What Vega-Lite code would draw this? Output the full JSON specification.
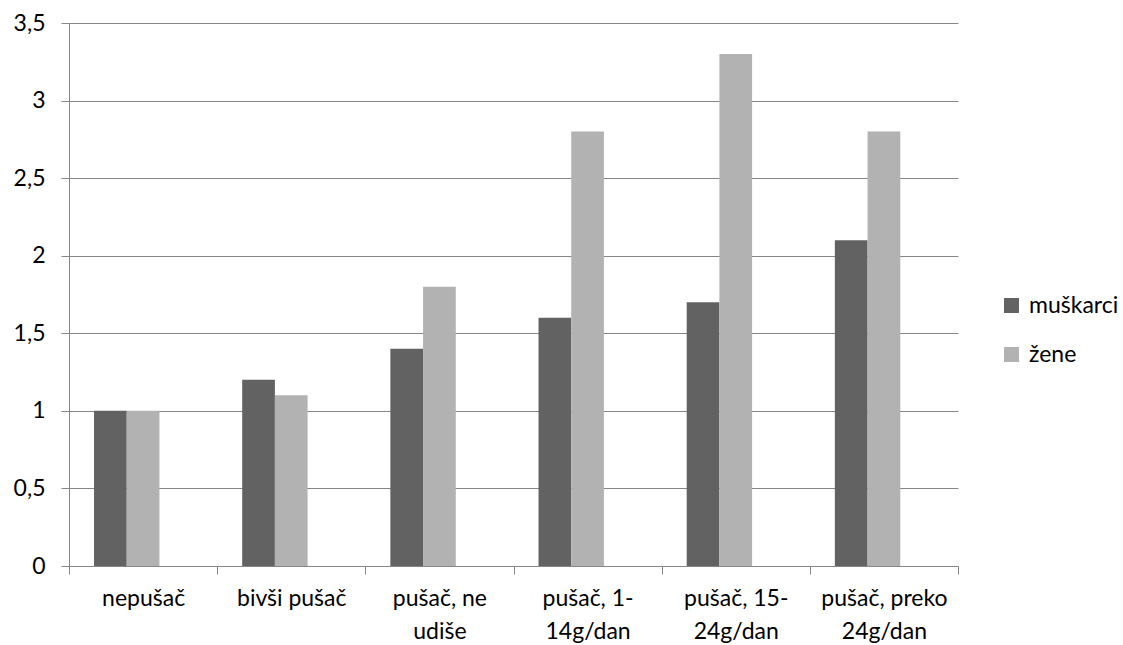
{
  "$schema": "https://vega.github.io/schema/vega-lite/v6.json",
  "width": 889,
  "height": 543,
  "autosize": "none",
  "padding": {"left": 69, "top": 23, "right": 165, "bottom": 79},
  "background": "white",
  "config": {
    "view": {"stroke": null},
    "font": "Lato",
    "axis": {"labelFont": "Lato", "labelFontSize": 23, "labelColor": "#000000", "domainColor": "#868686", "tickColor": "#868686", "gridColor": "#868686", "domainWidth": 1, "tickWidth": 1, "gridWidth": 1}
  },
  "data": {
    "values": [
      {"kategorija": "nepušač", "spol": "muškarci", "vrijednost": 1.0},
      {"kategorija": "nepušač", "spol": "žene", "vrijednost": 1.0},
      {"kategorija": "bivši pušač", "spol": "muškarci", "vrijednost": 1.2},
      {"kategorija": "bivši pušač", "spol": "žene", "vrijednost": 1.1},
      {"kategorija": "pušač, ne udiše", "spol": "muškarci", "vrijednost": 1.4},
      {"kategorija": "pušač, ne udiše", "spol": "žene", "vrijednost": 1.8},
      {"kategorija": "pušač, 1-14g/dan", "spol": "muškarci", "vrijednost": 1.6},
      {"kategorija": "pušač, 1-14g/dan", "spol": "žene", "vrijednost": 2.8},
      {"kategorija": "pušač, 15-24g/dan", "spol": "muškarci", "vrijednost": 1.7},
      {"kategorija": "pušač, 15-24g/dan", "spol": "žene", "vrijednost": 3.3},
      {"kategorija": "pušač, preko 24g/dan", "spol": "muškarci", "vrijednost": 2.1},
      {"kategorija": "pušač, preko 24g/dan", "spol": "žene", "vrijednost": 2.8}
    ]
  },
  "mark": {"type": "bar"},
  "encoding": {
    "x": {
      "field": "kategorija",
      "type": "nominal",
      "sort": ["nepušač", "bivši pušač", "pušač, ne udiše", "pušač, 1-14g/dan", "pušač, 15-24g/dan", "pušač, preko 24g/dan"],
      "scale": {"paddingInner": 0, "paddingOuter": 0},
      "axis": {
        "title": null,
        "labelAngle": 0,
        "tickBand": "extent",
        "tickSize": 8,
        "labelPadding": 13,
        "labelLineHeight": 33,
        "grid": false,
        "labelExpr": "datum.value == 'pušač, ne udiše' ? ['pušač, ne', 'udiše'] : datum.value == 'pušač, 1-14g/dan' ? ['pušač, 1-', '14g/dan'] : datum.value == 'pušač, 15-24g/dan' ? ['pušač, 15-', '24g/dan'] : datum.value == 'pušač, preko 24g/dan' ? ['pušač, preko', '24g/dan'] : datum.value"
      }
    },
    "xOffset": {
      "field": "spol",
      "scale": {"domain": ["muškarci", "žene", "_"], "paddingInner": 0, "paddingOuter": 0.765}
    },
    "y": {
      "field": "vrijednost",
      "type": "quantitative",
      "scale": {"domain": [0, 3.5], "nice": false},
      "axis": {
        "title": null,
        "values": [0, 0.5, 1, 1.5, 2, 2.5, 3, 3.5],
        "grid": true,
        "tickSize": 8,
        "labelPadding": 16,
        "labelExpr": "replace(format(datum.value, ''), '.', ',')"
      }
    },
    "color": {
      "field": "spol",
      "type": "nominal",
      "scale": {"domain": ["muškarci", "žene"], "range": ["#626262", "#b2b2b2"]},
      "legend": {
        "title": null,
        "orient": "none",
        "legendX": 931,
        "legendY": 271,
        "symbolType": "square",
        "symbolSize": 225,
        "symbolStrokeWidth": 0,
        "labelFont": "Lato",
        "labelFontSize": 23,
        "labelColor": "#000000",
        "labelOffset": 6,
        "rowPadding": 25,
        "padding": 0
      }
    }
  }
}
